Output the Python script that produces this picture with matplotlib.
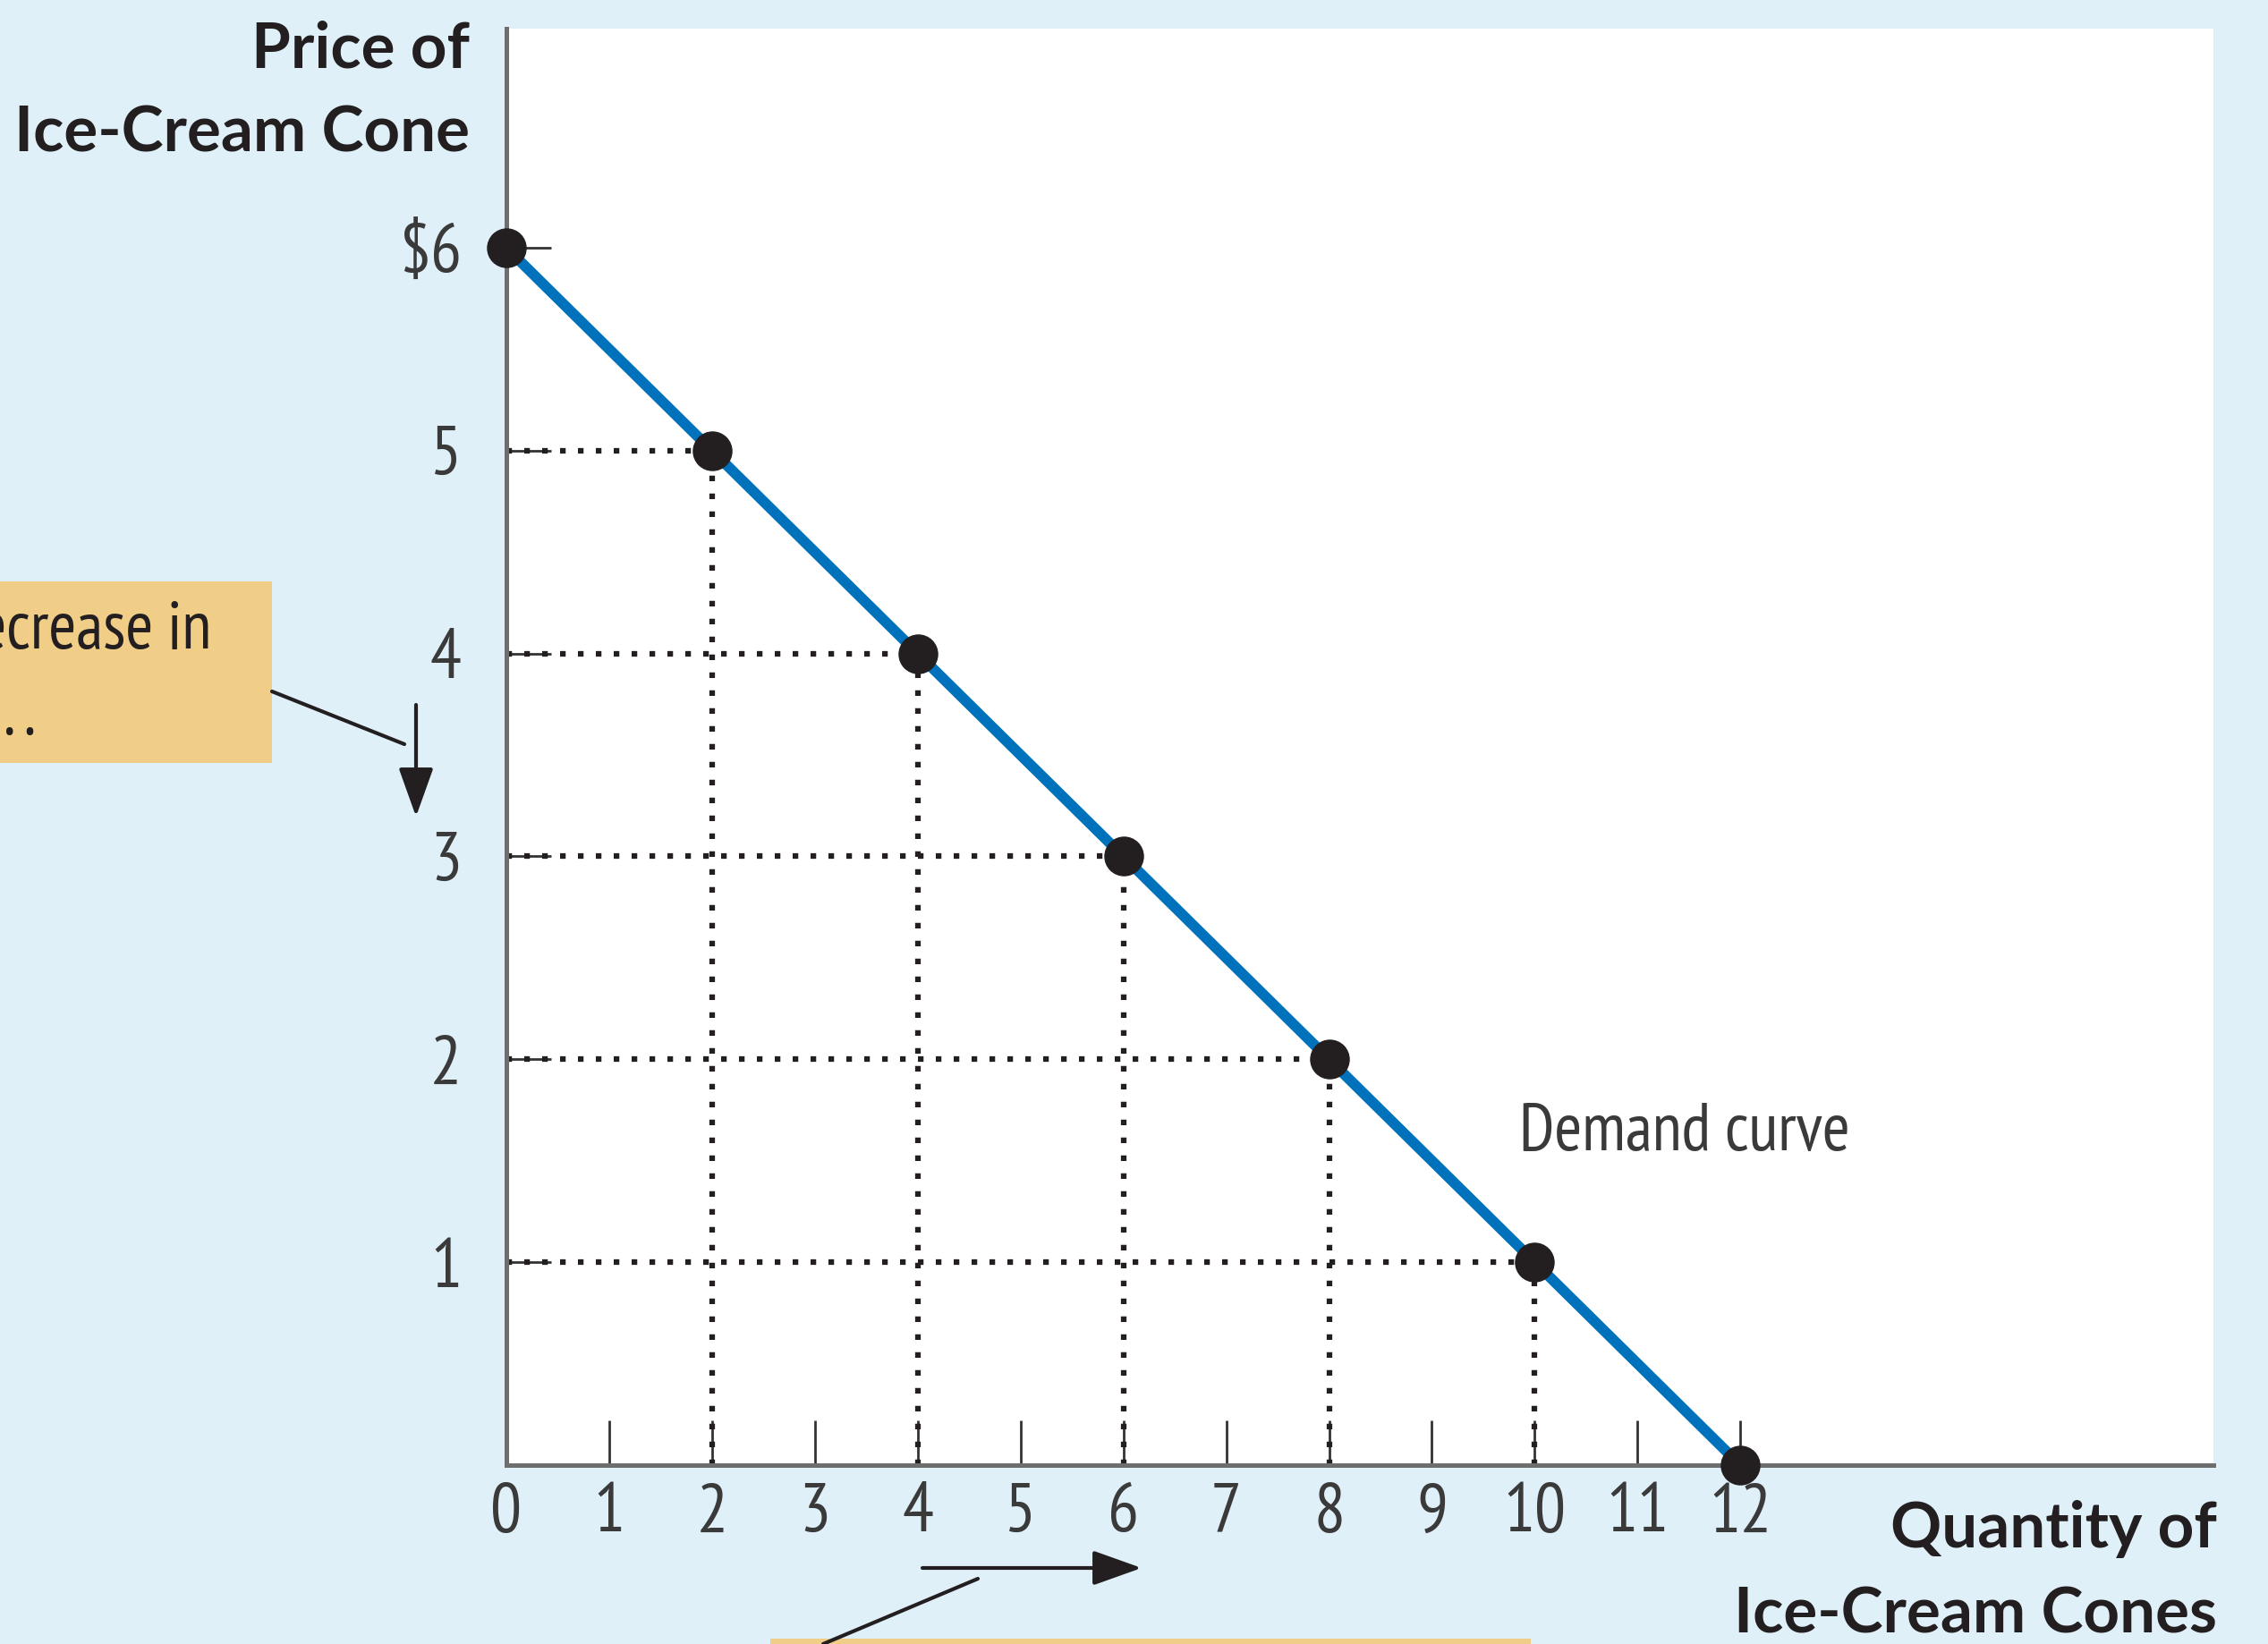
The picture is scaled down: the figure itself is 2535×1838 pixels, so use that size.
import matplotlib
matplotlib.use("Agg")
import matplotlib.pyplot as plt
from matplotlib.patches import Rectangle


# demand schedule
quantity = [0, 2, 4, 6, 8, 10, 12]
price = [6, 5, 4, 3, 2, 1, 0]

x_ticks = list(range(13))
x_ticklabels = [str(v) for v in x_ticks]
y_ticks = [1, 2, 3, 4, 5, 6]
y_ticklabels = ["1", "2", "3", "4", "5", "$6"]

W, H = 2535, 1838
BG = "#E0F0F9"
BOX = "#F1CE88"
INK = "#231F20"
GREY = "#3A3A3A"
BLUE = "#0072BC"

NARROW = ["PT Sans Narrow", "Open Sans Condensed", "DejaVu Sans"]
HEAD = ["Lato", "DejaVu Sans"]

plt.rcParams["font.family"] = NARROW


def fp(x, y):
    # pixel position measured from the top-left corner -> figure pixels
    return (x, H - y)


def main():
    fig = plt.figure(figsize=(W / 100, H / 100), dpi=100, facecolor=BG)
    left, right = 566 / W, 2474 / W
    bottom, top = 1 - 1638 / H, 1 - 32 / H
    ax = fig.add_axes([left, bottom, right - left, top - bottom])
    ax.set_facecolor("white")
    ax.set_xlim(0, 16.6)
    ax.set_ylim(0, 7.08)

    # dotted guides from each point to both axes
    for q, p in zip(quantity, price):
        if q > 0 and p > 0:
            ax.plot([0, q], [p, p], color=INK, lw=4.5, dashes=(1, 2.2), zorder=2)
            ax.plot([q, q], [0, p], color=INK, lw=4.5, dashes=(1, 2.2), zorder=2)

    ax.plot(quantity, price, color=BLUE, lw=8.5, solid_capstyle="butt", zorder=3)
    ax.plot(quantity, price, "o", color=INK, markersize=31, clip_on=False, zorder=5)

    for side in ("top", "right"):
        ax.spines[side].set_visible(False)
    for side in ("left", "bottom"):
        ax.spines[side].set_color("#6E6E6E")
        ax.spines[side].set_linewidth(3.6)

    ax.set_xticks(x_ticks)
    ax.set_xticklabels(x_ticklabels)
    ax.set_yticks(y_ticks)
    ax.set_yticklabels(y_ticklabels)
    ax.tick_params(axis="both", direction="in", length=36, width=2,
                   color="#333333", labelcolor=GREY, labelsize=56)
    ax.tick_params(axis="x", pad=14)
    ax.tick_params(axis="y", pad=36)

    ax.text(9.85, 1.55, "Demand curve", fontsize=54, color=GREY,
            ha="left", va="baseline")

    # axis titles
    title_kw = dict(family=HEAD, fontweight="bold",
                    fontsize=51, color=INK, ha="right", va="baseline",
                    xycoords="figure pixels")
    ax.annotate("Price of", xy=fp(525, 75), **title_kw)
    ax.annotate("Ice-Cream Cone", xy=fp(525, 170), **title_kw)
    ax.annotate("Quantity of", xy=fp(2478, 1730), **title_kw)
    ax.annotate("Ice-Cream Cones", xy=fp(2478, 1825), **title_kw)

    # callout boxes
    fig.add_artist(Rectangle((-10 / W, 1 - 853 / H), 314 / W, 203 / H,
                             transform=fig.transFigure, facecolor=BOX,
                             edgecolor="none", zorder=0))
    fig.add_artist(Rectangle((861 / W, 1 - 1850 / H), 850 / W, 18 / H,
                             transform=fig.transFigure, facecolor=BOX,
                             edgecolor="none", zorder=0))
    note_kw = dict(fontsize=54, color=INK, ha="right", va="baseline",
                   xycoords="figure pixels")
    ax.annotate("A decrease in", xy=fp(236, 725), **note_kw)
    ax.annotate("price . . .", xy=fp(40, 820), **note_kw)

    line_kw = dict(arrowstyle="-", color=INK, lw=3, shrinkA=0, shrinkB=0)
    arrow_kw = dict(arrowstyle="-|>,head_length=0.56,head_width=0.2",
                    mutation_scale=60, color=INK, lw=3, shrinkA=0, shrinkB=0)
    ax.annotate("", xy=fp(452, 832), xytext=fp(304, 773),
                xycoords="figure pixels", arrowprops=line_kw)
    ax.annotate("", xy=fp(465, 913), xytext=fp(465, 788),
                xycoords="figure pixels", arrowprops=arrow_kw)
    ax.annotate("", xy=fp(1093, 1765), xytext=fp(920, 1838),
                xycoords="figure pixels", arrowprops=line_kw)
    ax.annotate("", xy=fp(1276, 1753), xytext=fp(1031, 1753),
                xycoords="figure pixels", arrowprops=arrow_kw)

    fig.savefig("out.png", dpi=100, facecolor=BG)
    plt.close(fig)


if __name__ == "__main__":
    main()
